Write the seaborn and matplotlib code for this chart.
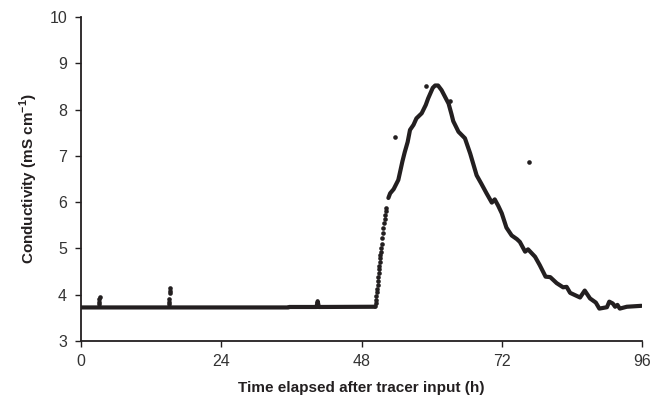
import matplotlib
matplotlib.use("Agg")
import matplotlib.pyplot as plt
import seaborn as sns
import pandas as pd

# ---- data ----
# continuous trace, segment A (baseline before the tracer arrives)
base_time = [0.0, 35.5, 35.6, 40.3, 40.5, 40.7, 50.3]
base_cond = [3.725, 3.725, 3.735, 3.735, 3.86, 3.735, 3.74]

# continuous trace, segment B (peak and recession)
peak_time = [52.6, 52.9, 53.5, 54.3, 54.6, 55.0, 55.4, 55.9, 56.3, 56.9, 57.4,
             58.3, 59.0, 59.4, 60.2, 60.6, 61.1, 61.7, 62.4, 62.9, 63.4, 63.7,
             64.6, 65.7, 66.6, 67.7, 68.5, 69.4, 70.3, 70.8, 71.4, 72.0, 72.8,
             73.7, 74.6, 75.1, 76.0, 76.5, 77.7, 78.5, 79.5, 80.3, 81.4, 82.5,
             83.1, 83.7, 85.4, 86.2, 87.1, 88.1, 88.7, 90.0, 90.4, 91.0, 91.4,
             91.8, 92.2, 93.4, 95.9]
peak_cond = [6.09, 6.19, 6.28, 6.48, 6.65, 6.88, 7.08, 7.30, 7.56, 7.67, 7.81,
             7.92, 8.10, 8.24, 8.47, 8.52, 8.52, 8.42, 8.25, 8.13, 7.90, 7.75,
             7.52, 7.38, 7.05, 6.58, 6.40, 6.19, 5.99, 6.06, 5.92, 5.76, 5.45,
             5.28, 5.20, 5.14, 4.93, 4.98, 4.82, 4.64, 4.39, 4.38, 4.25, 4.16,
             4.17, 4.04, 3.94, 4.09, 3.92, 3.83, 3.70, 3.73, 3.85, 3.81, 3.74,
             3.78, 3.70, 3.74, 3.76]

# separate readings: the fast rise, the small spikes and the stray points
dot_time = [50.30, 50.40, 50.48, 50.55, 50.62, 50.68, 50.74, 50.80, 50.86,
            50.92, 50.98, 51.04, 51.10, 51.16, 51.22, 51.30, 51.38, 51.46,
            51.55, 51.65, 51.75, 51.85, 51.95, 52.05, 52.15, 52.25,
            3.05, 3.10, 3.15, 3.18,
            15.00, 15.05, 15.10, 15.18, 15.20, 15.22,
            53.8, 59.1, 63.1, 76.7]
dot_cond = [3.76, 3.82, 3.89, 3.97, 4.05, 4.13, 4.21, 4.30, 4.38,
            4.46, 4.55, 4.63, 4.71, 4.79, 4.86, 4.93, 5.00, 5.10,
            5.22, 5.33, 5.44, 5.55, 5.63, 5.72, 5.80, 5.88,
            3.79, 3.85, 3.90, 3.94,
            3.79, 3.85, 3.91, 4.03, 4.09, 4.14,
            7.40, 8.51, 8.18, 6.87]

x_ticks = [0, 24, 48, 72, 96]
y_ticks = [3, 4, 5, 6, 7, 8, 9, 10]

# ---- plotting ----
sns.set_theme(style="white")
plt.rcParams["font.family"] = ["Liberation Sans", "DejaVu Sans"]
plt.rcParams["mathtext.fontset"] = "custom"
plt.rcParams["mathtext.rm"] = "Liberation Sans"
plt.rcParams["mathtext.bf"] = "Liberation Sans:bold"

ink = "#231f20"

trace = pd.DataFrame({
    "time": base_time + peak_time,
    "cond": base_cond + peak_cond,
    "seg": ["a"] * len(base_time) + ["b"] * len(peak_time),
})
dots = pd.DataFrame({"time": dot_time, "cond": dot_cond})

fig, ax = plt.subplots(figsize=(6.53, 4.03), dpi=100)
fig.subplots_adjust(left=81 / 653, right=642 / 653, top=1 - 17 / 403, bottom=1 - 341 / 403)

sns.lineplot(data=trace, x="time", y="cond", units="seg", estimator=None,
             color=ink, linewidth=3.0, ax=ax, solid_capstyle="round",
             solid_joinstyle="round")
sns.scatterplot(data=dots, x="time", y="cond", color=ink, s=11, linewidth=0,
                ax=ax)

ax.set_xlim(0, 96)
ax.set_ylim(3, 10)
ax.set_xticks(x_ticks)
ax.set_yticks(y_ticks)
ax.set_xticklabels([str(t) for t in x_ticks])
ax.set_yticklabels([str(t) for t in y_ticks])

for side in ["top", "right"]:
    ax.spines[side].set_visible(False)
for side in ["left", "bottom"]:
    ax.spines[side].set_color(ink)
    ax.spines[side].set_linewidth(1.3)

ax.tick_params(axis="both", which="major", direction="out", length=4,
               width=1.0, color=ink, labelcolor="#333333", labelsize=11.5,
               left=True, bottom=True)
ax.tick_params(axis="x", pad=5)
ax.tick_params(axis="y", pad=6)

ax.set_xlabel("Time elapsed after tracer input (h)", fontsize=11,
              fontweight="bold", color=ink, labelpad=9)
ax.set_ylabel(r"Conductivity (mS cm$^{\mathbf{-1}}$)", fontsize=11,
              fontweight="bold", color=ink, labelpad=7)

fig.savefig("out.png", dpi=100)
